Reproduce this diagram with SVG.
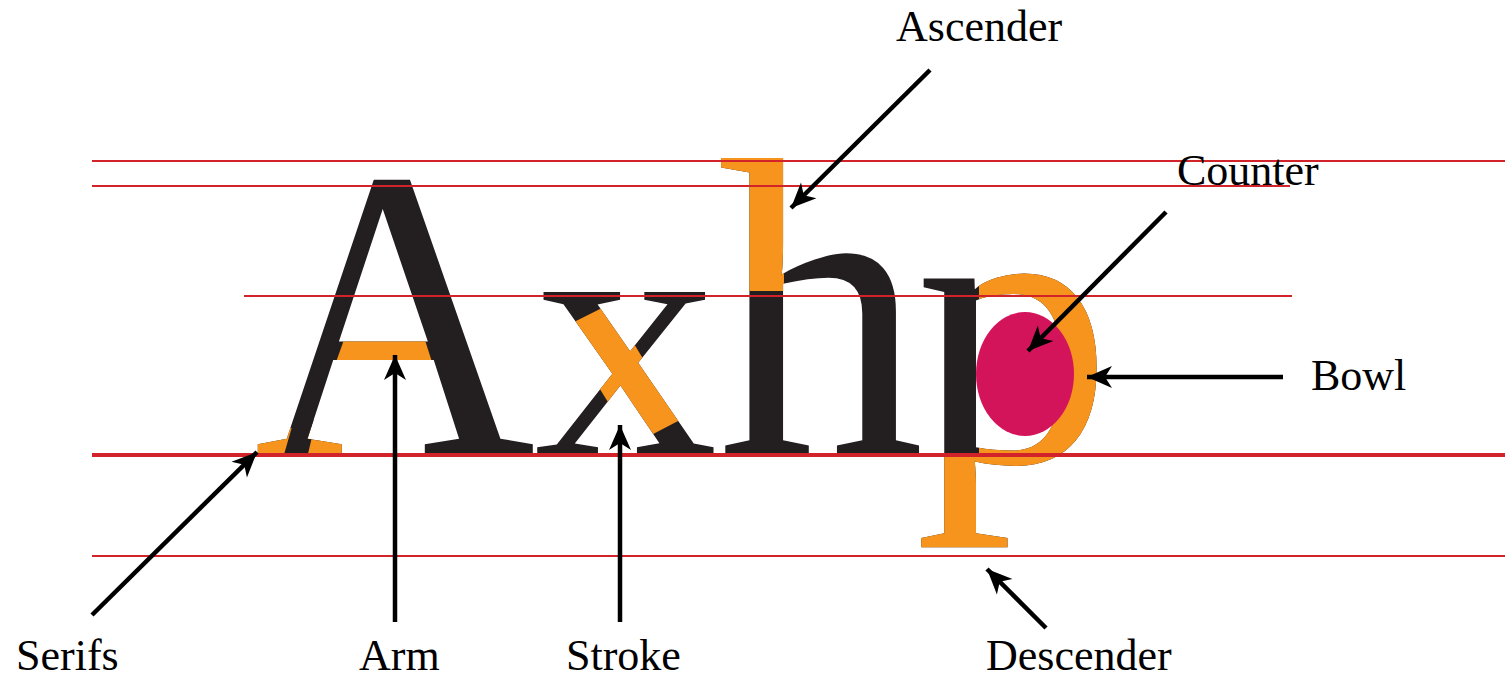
<svg xmlns="http://www.w3.org/2000/svg" xmlns:xlink="http://www.w3.org/1999/xlink" width="1505" height="678" viewBox="0 0 1505 678">
<style>
.lbl{font-family:"Liberation Serif","Times New Roman",serif;font-size:44px;fill:#000}
.glyph{font-family:"Liberation Serif","Times New Roman",serif;font-size:100px}
.guide{stroke:#d2232a;stroke-width:2;fill:none}
.conn{stroke:#000;stroke-width:4.5;fill:none;marker-end:url(#ah)}
</style>
<defs>
<marker id="ah" markerUnits="userSpaceOnUse" markerWidth="30" markerHeight="24" viewBox="-26 -12 28 24" refX="0" refY="0" orient="auto">
<path d="M0,0 L-25,-11 L-18,0 L-25,11 Z" fill="#000"/>
</marker>
<text id="tA" class="glyph" transform="translate(254,455) scale(3.9,4.17)">A</text>
<text id="tx" class="glyph" transform="translate(534,455) scale(3.68,3.55)">x</text>
<text id="th" class="glyph" transform="translate(717,455) scale(4.15,4.28)">h</text>
<text id="tp" class="glyph" transform="translate(915,462) scale(3.94,4.0)">p</text>
<clipPath id="cSerif" clipPathUnits="userSpaceOnUse"><rect x="250" y="428" width="95" height="32"/></clipPath>
<clipPath id="cLeg" clipPathUnits="userSpaceOnUse"><polygon points="294,420 316,420 307,458 283,458"/></clipPath>
<clipPath id="cArm" clipPathUnits="userSpaceOnUse"><polygon points="345,337 424,337 432,362 336,362"/></clipPath>
<clipPath id="cStroke" clipPathUnits="userSpaceOnUse"><polygon points="562,328 610,304 680,420 634,444"/></clipPath>
<clipPath id="cAsc" clipPathUnits="userSpaceOnUse"><rect x="700" y="140" width="84" height="151"/></clipPath>
<clipPath id="cP" clipPathUnits="userSpaceOnUse"><rect x="979" y="260" width="150" height="300"/><rect x="900" y="457" width="150" height="120"/></clipPath>
</defs>
<g id="letters">
<g id="letter-A">
<use xlink:href="#tA" fill="#231f20"/>
<use xlink:href="#tA" fill="#f7941d" clip-path="url(#cSerif)"/>
<use xlink:href="#tA" fill="#231f20" clip-path="url(#cLeg)"/>
<use xlink:href="#tA" fill="#f7941d" clip-path="url(#cArm)"/>
</g>
<g id="letter-x">
<use xlink:href="#tx" fill="#231f20"/>
<use xlink:href="#tx" fill="#f7941d" clip-path="url(#cStroke)"/>
</g>
<g id="letter-h">
<use xlink:href="#th" fill="#231f20"/>
<use xlink:href="#th" fill="#f7941d" clip-path="url(#cAsc)"/>
</g>
<g id="letter-p">
<use xlink:href="#tp" fill="#231f20"/>
<use xlink:href="#tp" fill="#f7941d" clip-path="url(#cP)"/>
<ellipse cx="1025" cy="374" rx="49" ry="62" fill="#d4145a"/>
</g>
</g>
<g id="guides">
<line class="guide" x1="92" y1="161" x2="1505" y2="161"/>
<line class="guide" x1="92" y1="186" x2="1290" y2="186"/>
<line class="guide" x1="244" y1="296" x2="1292" y2="296"/>
<line class="guide" x1="92" y1="455" x2="1505" y2="455" style="stroke-width:4"/>
<line class="guide" x1="92" y1="556" x2="1505" y2="556"/>
</g>
<g id="connectors">
<line class="conn" x1="92" y1="615" x2="257" y2="452"/>
<line class="conn" x1="395" y1="622" x2="395" y2="355"/>
<line class="conn" x1="620" y1="622" x2="620" y2="425"/>
<line class="conn" x1="930" y1="70" x2="791" y2="208"/>
<line class="conn" x1="1166" y1="212" x2="1028" y2="351"/>
<line class="conn" x1="1283" y1="377" x2="1087" y2="377"/>
<line class="conn" x1="1046" y1="628" x2="987" y2="569"/>
</g>
<g id="labels">
<text id="lbl-ascender" class="lbl" x="896" y="41">Ascender</text>
<text id="lbl-counter" class="lbl" x="1177" y="185">Counter</text>
<text id="lbl-bowl" class="lbl" x="1311" y="390">Bowl</text>
<text id="lbl-serifs" class="lbl" x="16" y="670">Serifs</text>
<text id="lbl-arm" class="lbl" x="359" y="670">Arm</text>
<text id="lbl-stroke" class="lbl" x="566" y="670">Stroke</text>
<text id="lbl-descender" class="lbl" x="986" y="670">Descender</text>
</g>
</svg>
